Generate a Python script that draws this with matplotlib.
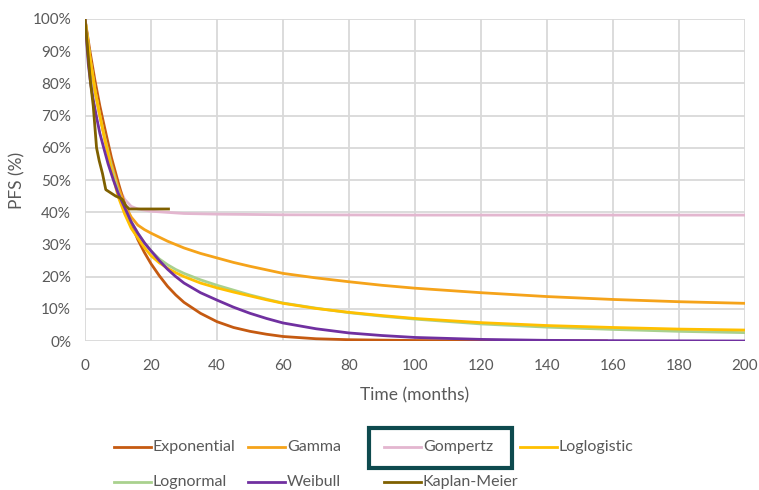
import matplotlib
matplotlib.use("Agg")
import matplotlib.pyplot as plt
from matplotlib.lines import Line2D
from matplotlib.patches import Rectangle

plt.rcParams['font.family'] = ['Lato', 'DejaVu Sans']

# ---- data ----
t_exp = [0, 1.5, 3, 4.5, 6, 8, 10, 12, 14, 16, 18, 20, 22.5, 25, 27.5, 30, 35, 40,
         45, 50, 55, 60, 70, 80, 100, 120, 158]
s_exp = [100, 90, 81, 73, 66, 57, 49.5, 42.5, 36.5, 31.5, 27.5, 24, 20.3, 17, 14.3, 12, 8.6, 6,
         4.2, 3, 2.1, 1.4, 0.7, 0.4, 0.15, 0.05, 0]

t_gamma = [0, 1.5, 3, 4.5, 6, 8, 10, 12, 14, 16, 18, 20, 25, 30, 35, 40, 45, 50, 55, 60,
           70, 80, 90, 100, 120, 140, 160, 180, 200]
s_gamma = [100, 88, 78, 70, 63, 55, 48, 42.5, 38.5, 36, 34.6, 33.5, 31, 28.9, 27.2, 25.8, 24.4, 23.2, 22.1, 21,
           19.6, 18.4, 17.3, 16.4, 15, 13.8, 12.9, 12.2, 11.7]

t_gomp = [0, 1.5, 3, 4.5, 6, 8, 10, 12, 14, 16, 20, 30, 40, 60, 100, 200]
s_gomp = [100, 88, 78, 70, 63, 55, 48, 44, 41.8, 41, 40.3, 39.6, 39.4, 39.2, 39.1, 39.1]

t_llog = [0, 1.5, 3, 4.5, 6, 8, 10, 12, 14, 16, 18, 20, 22.5, 25, 27.5, 30, 35, 40, 45, 50, 55, 60,
          70, 80, 90, 100, 120, 140, 160, 180, 200]
s_llog = [100, 88, 78, 70, 62.5, 53, 45, 39.5, 35, 32, 29, 26.5, 24.3, 22.6, 21.2, 20, 18, 16.5, 15.2, 14, 12.8, 11.7,
          10.1, 8.9, 7.9, 7, 5.7, 4.8, 4.2, 3.7, 3.4]

t_lnorm = [0, 1.5, 3, 4.5, 6, 8, 10, 12, 14, 16, 18, 20, 22.5, 25, 27.5, 30, 35, 40, 45, 50, 55, 60,
           70, 80, 90, 100, 120, 140, 160, 180, 200]
s_lnorm = [100, 88, 78, 70, 63, 54, 46.5, 41, 37, 33.5, 30.5, 28, 25.5, 23.7, 22.2, 21, 19, 17.3, 15.8, 14.3, 13, 11.8,
           10.2, 8.8, 7.7, 6.8, 5.3, 4.3, 3.6, 3.0, 2.6]

t_weib = [0, 1, 1.7, 2.5, 3.5, 4.5, 5.8, 7, 8.6, 10, 12, 14, 16, 18, 20, 22.5, 25, 27.5, 30, 35, 40,
          45, 50, 55, 60, 70, 80, 90, 100, 120, 140, 160, 200]
s_weib = [100, 86, 80, 75, 69.5, 64.5, 59.5, 55, 50, 46, 41.5, 37, 33.5, 30.5, 28, 25, 22.3, 20, 18, 15, 12.7,
          10.5, 8.6, 7, 5.6, 3.8, 2.5, 1.7, 1.1, 0.5, 0.2, 0.1, 0]

t_km = [0, 1, 1.7, 2.5, 3.5, 4.3, 5.3, 6.3, 7.8, 9.3, 10.5, 11.3, 12.4, 13.4, 25.3]
s_km = [100, 88, 80, 73, 60, 56, 52, 47, 46, 45, 44.5, 44, 42, 41, 41]

x_ticks = [0, 20, 40, 60, 80, 100, 120, 140, 160, 180, 200]
y_ticks = [0, 10, 20, 30, 40, 50, 60, 70, 80, 90, 100]

series = [
    ("Exponential", t_exp, s_exp, "#C55A11"),
    ("Gamma", t_gamma, s_gamma, "#F5A31A"),
    ("Gompertz", t_gomp, s_gomp, "#E3B6CF"),
    ("Loglogistic", t_llog, s_llog, "#FFC000"),
    ("Lognormal", t_lnorm, s_lnorm, "#A9D18E"),
    ("Weibull", t_weib, s_weib, "#7030A0"),
    ("Kaplan-Meier", t_km, s_km, "#7F6000"),
]

grey_text = "#595959"
grid_col = "#D9D9D9"

fig = plt.figure(figsize=(7.59, 4.90), dpi=100)
ax = fig.add_axes([85/759, 1-341/490, 660/759, 322/490])

draw_order = ["Gompertz", "Exponential", "Gamma", "Lognormal", "Loglogistic", "Weibull", "Kaplan-Meier"]
lookup = {s[0]: s for s in series}
for name in draw_order:
    _, t, s, c = lookup[name]
    ax.plot(t, s, color=c, lw=2.0, solid_joinstyle='round', zorder=3)

ax.set_xlim(0, 200)
ax.set_ylim(0, 100)
ax.set_xticks(x_ticks)
ax.set_yticks(y_ticks)
ax.set_yticklabels([f"{v}%" for v in y_ticks])
ax.grid(True, color=grid_col, lw=1.3, zorder=0)
for sp in ax.spines.values():
    sp.set_visible(False)
ax.tick_params(length=0, labelsize=11, colors=grey_text)
ax.tick_params(axis='x', pad=13)
ax.tick_params(axis='y', pad=10)
ax.set_xlabel("Time (months)", fontsize=12.5, color=grey_text)
ax.set_ylabel("PFS (%)", fontsize=12.5, color=grey_text)
ax.xaxis.set_label_coords(0.5, -(395 - 341) / 322, transform=ax.transAxes)
ax.xaxis.label.set_va('center')
ax.yaxis.set_label_coords(-(85 - 17) / 660, (341 - 180) / 322, transform=ax.transAxes)
ax.yaxis.label.set_va('center')

# ---- manual legend ----
col_x = [114, 248, 384, 520]
row_y = [447, 482]
layout = [["Exponential", "Gamma", "Gompertz", "Loglogistic"],
          ["Lognormal", "Weibull", "Kaplan-Meier"]]
W, H = 759, 490
for r, row in enumerate(layout):
    for ci, name in enumerate(row):
        _, _, _, c = lookup[name]
        x0 = col_x[ci]
        y = 1 - row_y[r] / H
        fig.add_artist(Line2D([x0 / W, (x0 + 37) / W], [y, y], color=c, lw=2.0,
                              transform=fig.transFigure))
        fig.text((x0 + 39) / W, y, name, fontsize=11.5, color=grey_text,
                 va='center', ha='left')

fig.add_artist(Rectangle((369 / W, 1 - 468 / H), 143 / W, 40 / H,
                         transform=fig.transFigure, fill=False,
                         edgecolor="#0E4A4E", lw=3))

fig.savefig("out.png", dpi=100)
